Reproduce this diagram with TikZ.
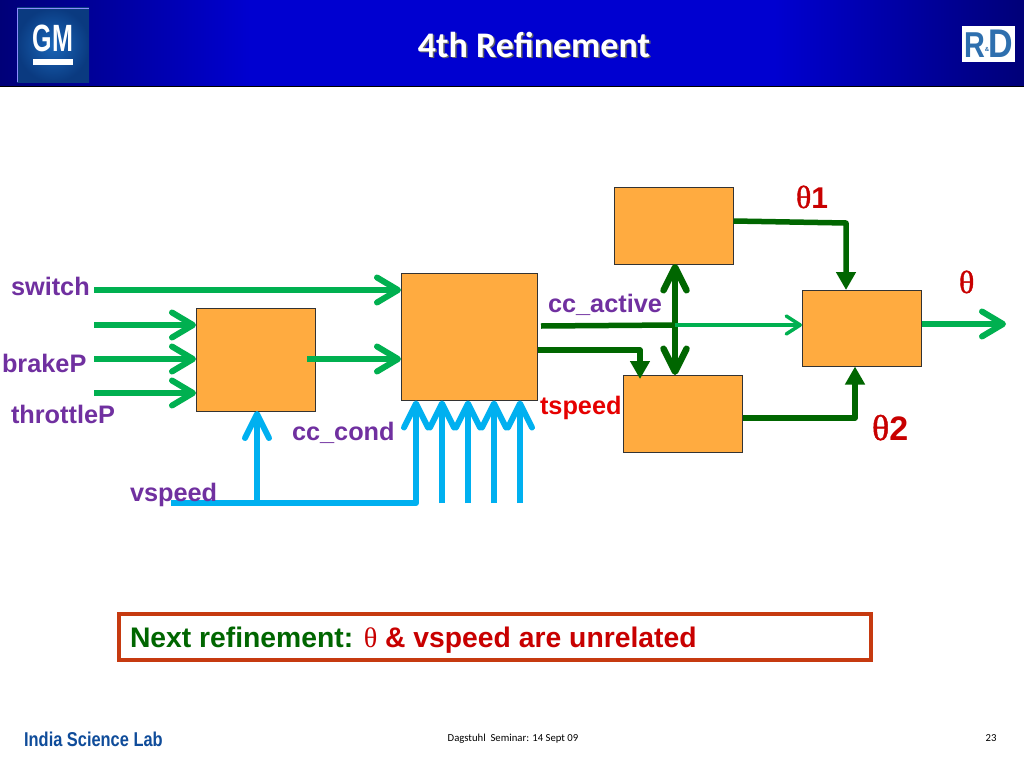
\documentclass[tikz,border=0pt]{standalone}
\usepackage{fontspec}
\setmainfont{Liberation Sans}
\newfontfamily\carlito{Carlito}
\newfontfamily\thetafont{Liberation Serif}
\newfontfamily\thetabold[FakeBold=1.2]{Liberation Serif}
\usetikzlibrary{arrows.meta}
\definecolor{boxfill}{HTML}{FFAB40}
\definecolor{lgreen}{HTML}{00B050}
\definecolor{dgreen}{HTML}{006600}
\definecolor{cblue}{HTML}{00B0F0}
\definecolor{purp}{HTML}{7030A0}
\definecolor{redtxt}{HTML}{E60000}
\definecolor{darkred}{HTML}{C80000}
\definecolor{framered}{HTML}{C63A10}
\definecolor{footblue}{HTML}{0F4C9A}
\definecolor{rdblue}{HTML}{2E6FAE}
\definecolor{hedge}{HTML}{000078}
\definecolor{hmid}{HTML}{0000D0}
\definecolor{gmlight}{HTML}{1A66B8}
\definecolor{gmdark}{HTML}{0A3A80}
\tikzset{
  x=1pt,y=-1pt,
  blockbox/.style={draw=black!80,line width=0.9pt,fill=boxfill,inner sep=0pt,outer sep=0pt,anchor=north west},
  lg/.style={draw=lgreen,line width=6pt,-{Straight Barb[length=21pt,width=25pt,line width=6pt,round]}},
  lgthin/.style={draw=lgreen,line width=3.5pt,-{Straight Barb[length=14pt,width=18pt,line width=3.5pt,round]}},
  dg/.style={draw=dgreen,line width=5.5pt,line join=round,-{Triangle[length=18pt,width=19pt]}},
  dgdouble/.style={draw=dgreen,line width=6.5pt,{Straight Barb[length=23pt,width=23pt,line width=6.5pt,round]}-{Straight Barb[length=23pt,width=23pt,line width=6.5pt,round]}},
  bl/.style={draw=cblue,line width=6pt,-{Straight Barb[length=24pt,width=24pt,line width=6pt,round]}},
  lab/.style={inner sep=0pt,outer sep=0pt,anchor=base west,font=\fontsize{25.3}{25}\selectfont\bfseries},
  plab/.style={lab,text=purp},
  thlab/.style={lab,text=darkred,font=\fontsize{30}{30}\selectfont\bfseries},
  thlabbig/.style={lab,text=darkred,font=\fontsize{34}{34}\selectfont\bfseries},
  foot/.style={inner sep=0pt,anchor=base,text=black,font=\carlito\fontsize{10.7}{11}\selectfont},
}
\begin{document}
\begin{tikzpicture}
\useasboundingbox (0,0) rectangle (1024,768);
\fill[white] (0,0) rectangle (1024,768);
% header band
\shade[left color=hedge,right color=hmid] (0,0) rectangle (250,86);
\fill[hmid] (249.5,0) rectangle (774.5,86);
\shade[left color=hmid,right color=hedge] (774,0) rectangle (1024,86);
\draw[black,line width=1.2pt] (0,86.4) -- (1024,86.4);
% GM logo
\shade[inner color=gmlight,outer color=gmdark] (17,8) rectangle (89,82);
\draw[white!55!blue,line width=0.7pt] (17,82) -- (17,8) -- (89,8);
\node[inner sep=0pt,anchor=base,text=white,xscale=0.66,font=\fontsize{38}{38}\selectfont\bfseries] (gm) at (53,52) {GM};
\fill[white] (33,59) rectangle (73,65);
% R&D logo
\fill[white] (962,26) rectangle (1015,62);
\node[inner sep=0pt,anchor=base,text=rdblue,xscale=0.8,font=\fontsize{36}{36}\selectfont\bfseries] (rr) at (974.5,57) {R};
\node[inner sep=0pt,anchor=base,text=rdblue,xscale=0.85,font=\fontsize{40}{40}\selectfont\bfseries] (rd) at (1001,57) {D};
\node[inner sep=0pt,anchor=base,text=rdblue,font=\fontsize{6}{6}\selectfont\bfseries] (ramp) at (987,52) {\&};
% title
\node[inner sep=0pt,anchor=base,text=black!60,font=\carlito\fontsize{36}{36}\selectfont\bfseries] (titleshadow) at (535.5,58.5) {4th Refinement};
\node[inner sep=0pt,anchor=base,text=white,font=\carlito\fontsize{36}{36}\selectfont\bfseries] (title) at (534,57) {4th Refinement};
% blocks
\node[blockbox,minimum width=119.5pt,minimum height=102.5pt] (A) at (196,308.5) {};
\node[blockbox,minimum width=136.5pt,minimum height=127.5pt] (B) at (401,273) {};
\node[blockbox,minimum width=119.5pt,minimum height=76.5pt] (C) at (614,187.5) {};
\node[blockbox,minimum width=119.5pt,minimum height=77.5pt] (D) at (623,375) {};
\node[blockbox,minimum width=119.5pt,minimum height=76.5pt] (E) at (802,290) {};
% free ends
\coordinate (s0) at (94,290);
\coordinate (i1) at (94,325);
\coordinate (i2) at (94,359);
\coordinate (i3) at (94,393);
\coordinate (ab) at (307,359);
\coordinate (v0) at (171,503);
\coordinate (v1) at (257,503);
\coordinate (v2) at (416,503);
\coordinate (v3) at (442,503);
\coordinate (v4) at (468,503);
\coordinate (v5) at (494,503);
\coordinate (v6) at (520,503);
\coordinate (cc) at (541,326);
\coordinate (jn) at (675,325);
\coordinate (tsp) at (538,350);
\coordinate (ce) at (846,223);
\coordinate (de) at (855,418);
\coordinate (out) at (1006,324);
% green inputs
\draw[lg] (s0) -- (B.west |- s0);
\draw[lg] (i1) -- (A.west |- i1);
\draw[lg] (i2) -- (A.west |- i2);
\draw[lg] (i3) -- (A.west |- i3);
\draw[lg] (ab) -- (B.west |- ab);
% blue inputs
\draw[bl] (v1) -- (A.south -| v1);
\draw[bl,line join=round] (v0) -- (v2) -- (B.south -| v2);
\draw[bl] (v3) -- (B.south -| v3);
\draw[bl] (v4) -- (B.south -| v4);
\draw[bl] (v5) -- (B.south -| v5);
\draw[bl] (v6) -- (B.south -| v6);
% centre
\draw[draw=dgreen,line width=5.5pt] (cc) -- (jn);
\draw[dgdouble] (C.south -| jn) -- (D.north -| jn);
\draw[lgthin] (jn) -- (E.west |- jn);
\draw[dg] (tsp) -- (640,350) -- (640,379);
% to output block
\draw[dg] (C.east |- 0,221) -- (ce) -- (E.north -| ce);
\draw[dg] (D.east |- de) -- (de) -- (E.south -| de);
\draw[lg] (E.east |- out) -- (out);
% labels
\node[plab] (l1) at (11,295) {switch};
\node[plab] (l2) at (2,372) {brakeP};
\node[plab] (l3) at (11,423) {throttleP};
\node[plab] (l4) at (130,501) {vspeed};
\node[plab] (l5) at (292,440) {cc\_cond};
\node[plab] (l6) at (548,312) {cc\_active};
\node[lab,text=redtxt] (l7) at (540,414) {tspeed};
\node[thlab] (t1) at (796,208) {{\thetabold\mdseries\fontsize{32}{32}\selectfont θ}1};
\node[thlabbig] (t2) at (872,440) {{\thetabold\mdseries\fontsize{36}{36}\selectfont θ}2};
\node[thlab] (t3) at (959,293) {{\thetabold\mdseries\fontsize{32}{32}\selectfont θ}};
% callout
\node[draw=framered,line width=4pt,fill=white,inner sep=0pt,outer sep=0pt,anchor=north west,minimum width=752pt,minimum height=46pt] (call) at (119,614) {};
\node[lab,text=dgreen,font=\fontsize{28.3}{28}\selectfont\bfseries] (c1) at (130,647) {Next refinement: \textcolor{darkred}{{\thetafont\mdseries θ} \& vspeed are unrelated}};
% footer
\node[inner sep=0pt,anchor=base west,text=footblue,xscale=0.82,font=\fontsize{20}{20}\selectfont\bfseries] (f1) at (24,746) {India Science Lab};
\node[foot] (f2) at (513,741) {Dagstuhl\ \ Seminar: 14 Sept 09};
\node[foot] (f3) at (991,741) {23};
\end{tikzpicture}
\end{document}
